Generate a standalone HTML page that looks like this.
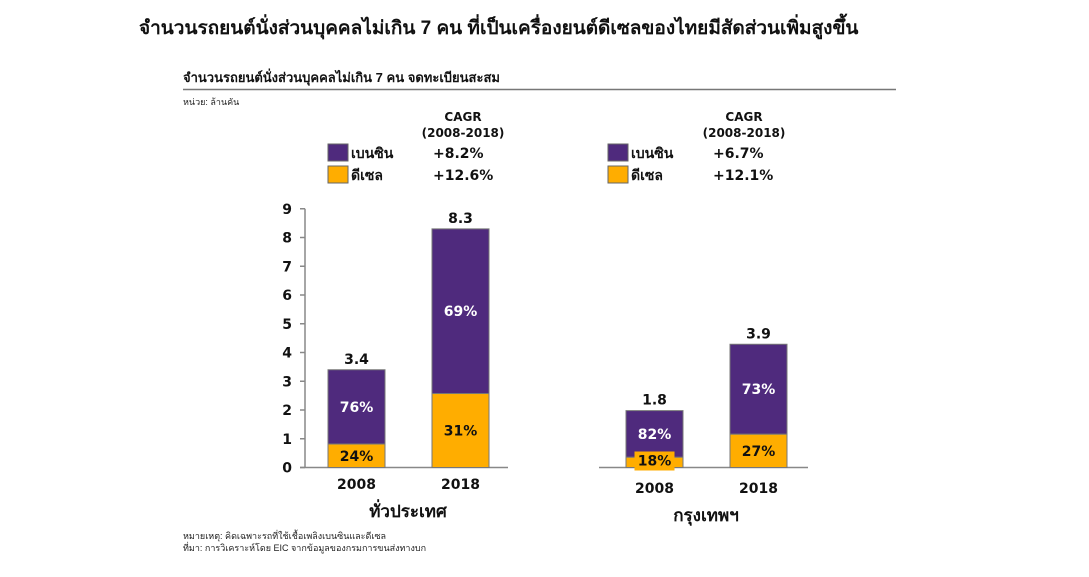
<!DOCTYPE html>
<html><head><meta charset="utf-8">
<style>
body{margin:0;width:1089px;height:572px;background:#fff;overflow:hidden;font-family:"Liberation Sans","Noto Sans CJK SC",sans-serif;}
svg text{font-family:"DejaVu Sans","Liberation Sans",sans-serif;}
.th{font-family:"Liberation Sans","Noto Sans CJK SC",sans-serif;}
</style></head><body>
<svg id="c" width="1089" height="572" xmlns="http://www.w3.org/2000/svg">
<text class="th" x="139" y="34" font-size="19" font-weight="bold" fill="#111">จำนวนรถยนต์นั่งส่วนบุคคลไม่เกิน 7 คน ที่เป็นเครื่องยนต์ดีเซลของไทยมีสัดส่วนเพิ่มสูงขึ้น</text>
<text class="th" x="183" y="82" font-size="13" font-weight="bold" fill="#111">จำนวนรถยนต์นั่งส่วนบุคคลไม่เกิน 7 คน จดทะเบียนสะสม</text>
<line x1="183" y1="89.5" x2="896" y2="89.5" stroke="#777" stroke-width="1.5"/>
<text class="th" x="183" y="105" font-size="9" fill="#222">หน่วย: ล้านคัน</text>
<text class="th" x="183" y="539" font-size="9" fill="#222">หมายเหตุ: คิดเฉพาะรถที่ใช้เชื้อเพลิงเบนซินและดีเซล</text>
<text class="th" x="183" y="551" font-size="9" fill="#222">ที่มา:    การวิเคราะห์โดย  EIC จากข้อมูลของกรมการขนส่งทางบก</text>
</svg>
<script>
const years=["2008","2018"];
const regions=["ทั่วประเทศ","กรุงเทพฯ"];
const totalsNation=[3.4,8.3];
const dieselShareNation=[24,31];
const totalsBkk=[1.8,3.9];
const dieselShareBkk=[18,27];
const cagrBenzin=["+8.2%","+6.7%"];
const cagrDiesel=["+12.6%","+12.1%"];
const yTicks=[0,1,2,3,4,5,6,7,8,9];

const svg=document.getElementById('c');
const NS='http://www.w3.org/2000/svg';
function mk(tag,attrs,txt){const e=document.createElementNS(NS,tag);for(const k in attrs)e.setAttribute(k,attrs[k]);if(txt!==undefined)e.textContent=txt;svg.appendChild(e);return e;}
const PURPLE='#4f2a7d',ORANGE='#ffad00';
const base=467.5;
const panels=[
 {totals:totalsNation,share:dieselShareNation,scale:28.75,bx:[328,432],ax0:300,ax1:508,yAxis:305,lx:328,cagrX:463,regionX:408,yearY:489,regionY:517},
 {totals:totalsBkk,share:dieselShareBkk,scale:31.6,bx:[626,730],ax0:599,ax1:808,yAxis:null,lx:608,cagrX:744,regionX:706,yearY:493,regionY:521}
];
const bw=57;
panels.forEach((p,pi)=>{
 const y=v=>base-v*p.scale;
 let t=mk('text',{x:p.cagrX,y:121,'font-size':12,'font-weight':'bold','text-anchor':'middle',fill:'#111'},'CAGR');
 
 
 t=mk('text',{x:p.cagrX,y:137,'font-size':12,'font-weight':'bold','text-anchor':'middle',fill:'#111'},'(2008-2018)');
 
 
 [[PURPLE,'เบนซิน',cagrBenzin[pi],144],[ORANGE,'ดีเซล',cagrDiesel[pi],166]].forEach(([c,l,v,yy])=>{
  let r=mk('rect',{x:p.lx,y:yy,width:20,height:17,fill:c,stroke:'#666','stroke-width':1});
  
  
  let a=mk('text',{x:p.lx+23,y:yy+14,'font-size':14,'font-weight':'bold',fill:'#111',class:'th'},l);
  
  
  let b=mk('text',{x:p.lx+105,y:yy+14,'font-size':14,'font-weight':'bold',fill:'#111'},v);
  
  
 });
 let ax=mk('line',{x1:p.ax0,y1:base,x2:p.ax1,y2:base,stroke:'#888','stroke-width':1.5});
 
 
 if(p.yAxis!==null){
  let ya=mk('line',{x1:p.yAxis,y1:y(9),x2:p.yAxis,y2:base,stroke:'#888','stroke-width':1.5});
  
  
  yTicks.forEach(v=>{
   let tk=mk('line',{x1:p.yAxis-5,y1:y(v),x2:p.yAxis,y2:y(v),stroke:'#888','stroke-width':1.5});
   
   
   let tl=mk('text',{x:292,y:y(v)+5,'font-size':14,'font-weight':'bold','text-anchor':'end',fill:'#111'},v);
   
   
  });
 }
 p.totals.forEach((tot,i)=>{
  const x=p.bx[i],cx=x+bw/2;
  const dv=tot*p.share[i]/100;
  let rb=mk('rect',{x:x,y:y(tot),width:bw,height:y(dv)-y(tot),fill:PURPLE,stroke:'#777','stroke-width':1});
  
  
  let rd=mk('rect',{x:x,y:y(dv),width:bw,height:base-y(dv),fill:ORANGE,stroke:'#777','stroke-width':1});
  
  
  let tv=mk('text',{x:cx,y:y(tot)-6,'font-size':14,'font-weight':'bold','text-anchor':'middle',fill:'#111'},tot.toFixed(1));
  
  
  const dh=base-y(dv);
  let dy=dh<15?base-2:base-dh/2+5;
  if(dh<15){let bg=mk('rect',{x:cx-20,y:base-16,width:40,height:19,fill:ORANGE});}
  let td=mk('text',{x:cx,y:dy,'font-size':14,'font-weight':'bold','text-anchor':'middle',fill:'#111'},p.share[i]+'%');
  
  
  const bm=(y(tot)+y(dv))/2;
  let tb=mk('text',{x:cx,y:bm+5,'font-size':14,'font-weight':'bold','text-anchor':'middle',fill:'#fff'},(100-p.share[i])+'%');
  
  
  let ty=mk('text',{x:cx,y:p.yearY,'font-size':14,'font-weight':'bold','text-anchor':'middle',fill:'#111'},years[i]);
  
  
 });
 let rl=mk('text',{x:p.regionX,y:p.regionY,'font-size':17,'font-weight':'bold','text-anchor':'middle',fill:'#111',class:'th'},regions[pi]);
 
 
});
</script>
</body></html>
